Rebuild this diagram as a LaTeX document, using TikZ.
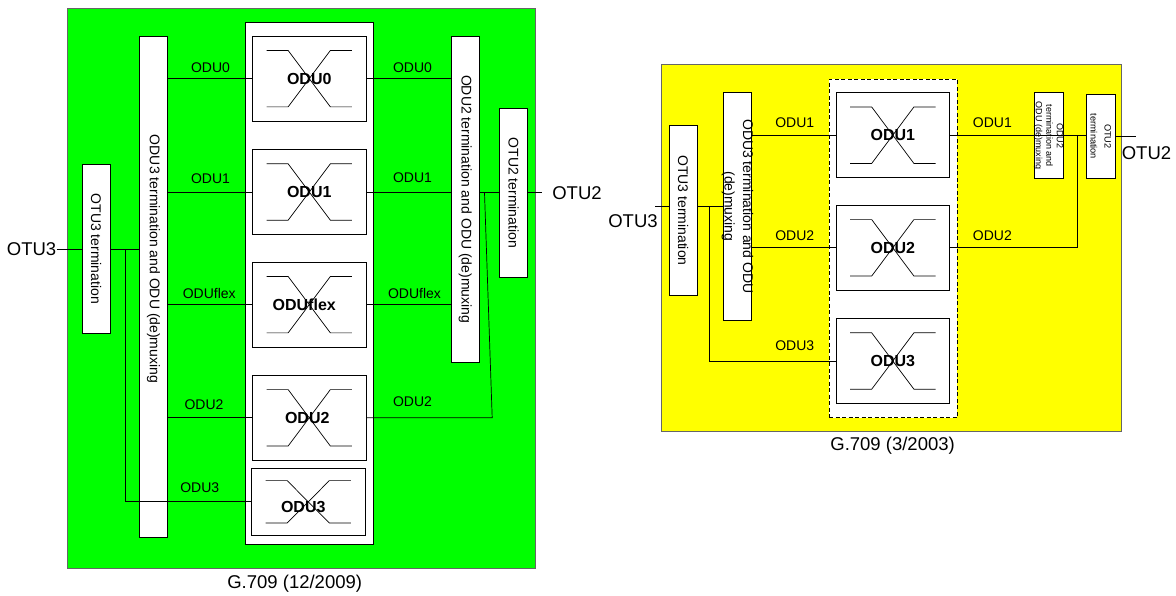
\documentclass[tikz,border=0pt]{standalone}
\usepackage{fontspec}
\setmainfont{Liberation Sans}
\definecolor{grn}{RGB}{0,255,0}
\definecolor{yel}{RGB}{255,255,0}
\newcommand\crossx[2]{%
  \draw ([shift={(-42.7,-#2)}]#1.center) -- ++(21.6,0) -- ++(42.2,2*#2) -- ++(21.6,0);
  \draw ([shift={(-42.7,#2)}]#1.center) -- ++(21.6,0) -- ++(42.2,-2*#2) -- ++(21.6,0);}
\begin{document}
\begin{tikzpicture}[x=1pt,y=-1pt, line width=0.7pt,
  panel/.style={draw=black!60, inner sep=0},
  bar/.style={draw, fill=white, inner sep=0, minimum width=28.3pt},
  sw/.style={draw, fill=white, inner sep=0, minimum width=113.5pt, minimum height=85pt},
  bartxt/.style={rotate=-90, font=\fontsize{14}{16}\selectfont, inner sep=0},
  lbl/.style={font=\fontsize{14}{16}\selectfont, inner sep=0},
  blbl/.style={font=\bfseries\fontsize{16}{18}\selectfont, inner sep=0},
  io/.style={font=\fontsize{18.5}{20}\selectfont, inner sep=0}]
\useasboundingbox (0,0) rectangle (1176,595);

% ================= left: G.709 (12/2009) =================
\node[panel, fill=grn, minimum width=467.6pt, minimum height=559.7pt] (gpanel) at (301.2,288.15) {};
\node[draw, fill=white, inner sep=0, minimum width=127.8pt, minimum height=522pt] (wcol) at (309.2,283.3) {};
\node[sw] (b0) at (309.25,78.65) {};
\node[sw] (b1) at (309.25,192) {};
\node[sw] (bf) at (309.25,304.65) {};
\node[sw] (b2) at (309.25,417.8) {};
\node[sw, minimum width=113.7pt, minimum height=67pt] (b3) at (308.25,501.8) {};
\crossx{b0}{28.2}
\crossx{b1}{28.2}
\crossx{bf}{28.2}
\crossx{b2}{28.2}
\crossx{b3}{21.2}
\node[blbl] (t0) at (b0) {ODU0};
\node[blbl] (t1) at (b1) {ODU1};
\node[blbl] (tf) at ([xshift=-5pt]bf.center) {ODUflex};
\node[blbl] (t2) at ([xshift=-2pt]b2.center) {ODU2};
\node[blbl] (t3) at ([xshift=-5pt,yshift=-5pt]b3.center) {ODU3};

\node[bar, minimum height=500.3pt] (d3t) at (153.45,286.85) {};
\node[bartxt] (d3tt) at (153.45,259) {ODU3 termination and ODU (de)muxing};
\node[bar, minimum height=169.7pt] (o3t) at (96.05,248.85) {};
\node[bartxt] (o3tt) at (o3t) {OTU3 termination};
\node[bar, minimum height=326.3pt] (d2t) at (465.15,199.15) {};
\node[bartxt] (d2tt) at (d2t) {ODU2 termination and ODU (de)muxing};
\node[bar, minimum height=169pt] (o2t) at (513.5,192.8) {};
\node[bartxt] (o2tt) at (o2t) {OTU2 termination};

\node[io, anchor=east] (o3l) at (56.6,249) {OTU3};
\coordinate (j1) at (125.5,249);
\draw (o3l.east) -- (o3t.west |- o3l.east);
\draw (o3t.east |- j1) -- (d3t.west |- j1);
\draw (j1) |- (b3.west);
\draw (d3t.east |- b0.west) -- (b0.west);
\draw (d3t.east |- b1.west) -- (b1.west);
\draw (d3t.east |- bf.west) -- (bf.west);
\draw (d3t.east |- b2.west) -- (b2.west);
\draw (b0.east) -- (d2t.west |- b0.east);
\draw (b1.east) -- (d2t.west |- b1.east);
\draw (bf.east) -- (d2t.west |- bf.east);
\coordinate (j2) at (492.2,417.8);
\coordinate (j3) at (484.5,192.8);
\draw (b2.east) -- (j2) -- (j3);
\draw (d2t.east |- o2t.west) -- (o2t.west);
\node[io, anchor=west] (o2l) at (552,192.8) {OTU2};
\coordinate (o2e) at (541.5,192.8);
\draw (o2t.east) -- (o2e);

\node[lbl] (l0a) at (210.5,67.3) {ODU0};
\node[lbl] (l0b) at (412.5,67.3) {ODU0};
\node[lbl] (l1a) at (210.5,178.3) {ODU1};
\node[lbl] (l1b) at (412.5,178) {ODU1};
\node[lbl] (lfa) at (209.3,293.3) {ODUflex};
\node[lbl] (lfb) at (414.5,293.3) {ODUflex};
\node[lbl] (l2a) at (204,404.3) {ODU2};
\node[lbl] (l2b) at (412.5,402) {ODU2};
\node[lbl] (l3a) at (199.8,487.3) {ODU3};
\node[io] (capL) at (294.7,583.3) {G.709 (12/2009)};

% ================= right: G.709 (3/2003) =================
\node[panel, fill=yel, minimum width=460pt, minimum height=367.4pt] (ypanel) at (891.7,248) {};
\node[draw, dashed, dash pattern=on 4pt off 2.5pt, line width=0.9pt, fill=white, inner sep=0,
      minimum width=127.9pt, minimum height=338.7pt] (dbox) at (893.15,248.35) {};
\node[sw] (c1) at (892.8,135.2) {};
\node[sw] (c2) at (892.8,247.8) {};
\node[sw, minimum height=84.6pt] (c3) at (892.8,361) {};
\crossx{c1}{28.2}
\crossx{c2}{28.2}
\crossx{c3}{28.2}
\node[blbl] (u1) at (c1) {ODU1};
\node[blbl] (u2) at (c2) {ODU2};
\node[blbl] (u3) at (c3) {ODU3};

\node[bar, minimum height=169.3pt] (o3r) at (683.2,210.35) {};
\node[bartxt] (o3rt) at (o3r) {OTU3 termination};
\node[bar, minimum width=28pt, minimum height=227.3pt] (d3r) at (737.4,206.35) {};
\node[bartxt, align=center, font=\fontsize{14}{18.5}\selectfont] (d3rt) at (d3r) {ODU3 termination and ODU\\(de)muxing};
\node[bar, minimum width=28.7pt, minimum height=86pt] (d2r) at (1048.55,135.7) {};
\node[bartxt, align=center, font=\fontsize{9}{10.5}\selectfont] (d2rt) at (d2r) {ODU2\\termination and\\ODU (de)muxing};
\node[bar, minimum width=28.2pt, minimum height=84.7pt] (o2r) at (1100.9,136.35) {};
\node[bartxt, align=center, font=\fontsize{9.2}{14}\selectfont] (o2rt) at (o2r) {OTU2\\termination};

\coordinate (r0) at (655,206.7);
\node[io] (o3rl) at (633,220.7) {OTU3};
\draw (r0) -- (o3r.west |- r0);
\draw (o3r.east |- r0) -- (d3r.west |- r0);
\coordinate (j4) at (709.1,206.7);
\draw (j4) |- (c3.west);
\draw (d3r.east |- c1.west) -- (c1.west);
\draw (d3r.east |- c2.west) -- (c2.west);
\draw (c1.east) -- (o2r.west |- c1.east);
\coordinate (j5) at (1077.6,135.2);
\draw (c2.east) -| (j5);
\coordinate (r1) at (1136.4,136.3);
\draw (o2r.east |- r1) -- (r1);
\node[io] (o2rl) at (1146.5,153.3) {OTU2};

\node[lbl] (m1a) at (794.7,122.7) {ODU1};
\node[lbl] (m2a) at (794.7,235.7) {ODU2};
\node[lbl] (m3a) at (794.7,345.7) {ODU3};
\node[lbl] (m1b) at (992.4,122.7) {ODU1};
\node[lbl] (m2b) at (992.4,235.7) {ODU2};
\node[io] (capR) at (892.6,445.7) {G.709 (3/2003)};
\end{tikzpicture}
\end{document}
